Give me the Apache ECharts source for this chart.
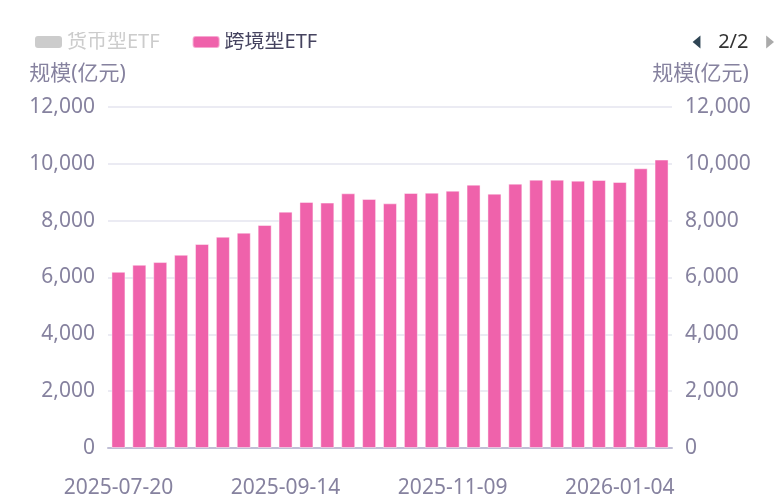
<!DOCTYPE html>
<html>
<head>
<meta charset="utf-8">
<script src="https://cdn.jsdelivr.net/npm/echarts@6/dist/echarts.min.js"></script>
<style>
html,body{margin:0;padding:0;background:#fff;}
#main{width:783px;height:498px;}
</style>
</head>
<body>
<div id="main"></div>
<script>
var categories = ['2025-07-20','2025-07-27','2025-08-03','2025-08-10','2025-08-17','2025-08-24','2025-08-31','2025-09-07','2025-09-14','2025-09-21','2025-09-28','2025-10-05','2025-10-12','2025-10-19','2025-10-26','2025-11-02','2025-11-09','2025-11-16','2025-11-23','2025-11-30','2025-12-07','2025-12-14','2025-12-21','2025-12-28','2026-01-04','2026-01-11','2026-01-18'];
var crossBorderValues = [6200,6448,6543,6800,7178,7435,7577,7848,8318,8660,8635,8963,8765,8610,8975,8985,9055,9267,8950,9303,9444,9444,9409,9432,9361,9843,10150];
var legendNames = ['股票型ETF','债券型ETF','商品型ETF','货币型ETF','跨境型ETF'];
var yTicks = {min: 0, max: 12000, interval: 2000};
var axisName = '规模(亿元)';

var FONT = 'Noto Sans, Noto Sans CJK SC, sans-serif';
var labelColor = '#86829f';

var chart = echarts.init(document.getElementById('main'), null, {renderer: 'canvas'});

var selected = {};
legendNames.forEach(function (n) { selected[n] = (n === '跨境型ETF'); });

var series = legendNames.map(function (n) {
  return {
    name: n,
    type: 'bar',
    data: n === '跨境型ETF' ? crossBorderValues : [],
    barWidth: 14,
    itemStyle: n === '跨境型ETF' ? {color: '#ef62ab', borderColor: 'rgba(255,255,255,0.45)', borderWidth: 1} : {color: '#999'}
  };
});

function yAxis(pos, pad) {
  return {
    type: 'value',
    position: pos,
    min: yTicks.min, max: yTicks.max, interval: yTicks.interval,
    name: axisName,
    nameLocation: 'end',
    nameGap: 22,
    nameTextStyle: {color: labelColor, fontSize: 21, fontFamily: FONT, padding: pad},
    axisLine: {show: false},
    axisTick: {show: false},
    axisLabel: {color: labelColor, fontSize: 21, fontFamily: FONT, margin: 13},
    splitLine: {show: pos === 'left', lineStyle: {color: '#ebebf3', width: 2}}
  };
}

chart.setOption({
  animation: false,
  backgroundColor: '#fff',
  textStyle: {fontFamily: FONT},
  legend: {
    type: 'scroll',
    data: legendNames,
    selected: selected,
    scrollDataIndex: 3,
    left: 30, width: 739, top: 27,
    itemWidth: 27, itemHeight: 12,
    itemGap: 32,
    icon: 'roundRect',
    textStyle: {color: '#45435f', fontSize: 20, fontFamily: FONT},
    inactiveColor: '#cccccc',
    pageButtonPosition: 'end',
    pageButtonItemGap: 8,
    pageIconSize: 13,
    pageIconColor: '#2f4554',
    pageIconInactiveColor: '#aaaaaa',
    pageTextStyle: {color: '#333', fontSize: 20, fontFamily: FONT}
  },
  grid: {left: 108, right: 111, top: 107, bottom: 50, containLabel: false, outerBoundsMode: 'none'},
  xAxis: {
    type: 'category',
    data: categories,
    axisLine: {show: true, lineStyle: {color: '#c0bfd6', width: 2}},
    axisTick: {show: false},
    axisLabel: {color: labelColor, fontSize: 21, fontFamily: FONT, interval: 7, margin: 30}
  },
  yAxis: [yAxis('left', [0, 61, 0, 0]), yAxis('right', [0, 0, 0, 57])],
  series: series
});
</script>
</body>
</html>
